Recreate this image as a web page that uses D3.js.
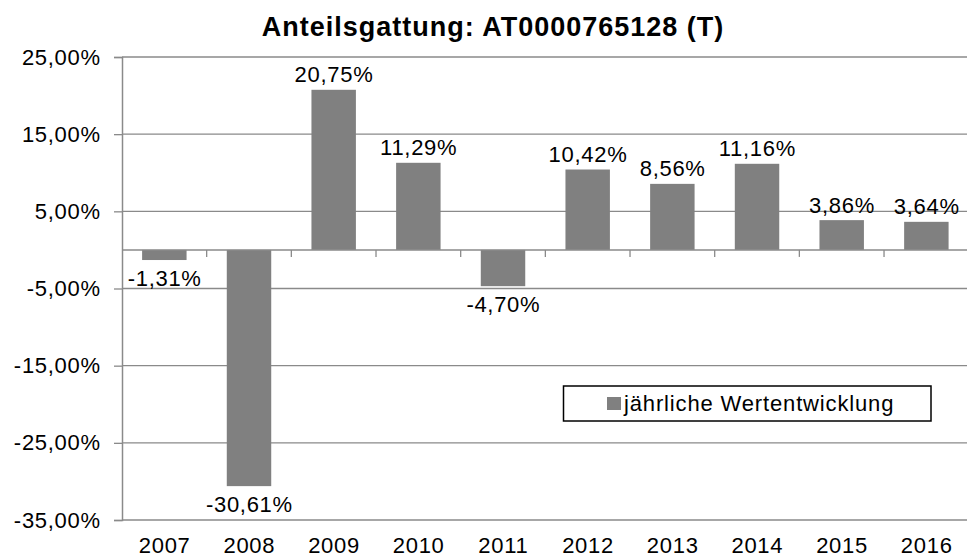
<!DOCTYPE html>
<html>
<head>
<meta charset="utf-8">
<script src="https://cdn.jsdelivr.net/npm/d3@7"></script>
<style>
  html, body { margin: 0; padding: 0; background: #fff; }
  svg { display: block; font-family: "Liberation Sans", Arial, sans-serif; }
</style>
</head>
<body>
<svg id="chart" width="967" height="558"></svg>
<script>
const title = "Anteilsgattung: AT0000765128 (T)";
const categories = ["2007","2008","2009","2010","2011","2012","2013","2014","2015","2016"];
const values = [-1.31, -30.61, 20.75, 11.29, -4.70, 10.42, 8.56, 11.16, 3.86, 3.64];
const yTicks = [25, 15, 5, -5, -15, -25, -35];
const seriesName = "jährliche Wertentwicklung";

const fmt = v => v.toFixed(2).replace(".", ",") + "%";

const svg = d3.select("#chart");
const plotLeft = 122, plotRight = 968.7, plotTop = 57, plotBottom = 520;

const x = d3.scaleBand().domain(categories).range([plotLeft, plotRight]).paddingInner(0.475).paddingOuter(0.2375);
const y = d3.scaleLinear().domain([-35, 25]).range([plotBottom, plotTop]);

const gridColor = "#8a8a8a";

// gridlines
svg.append("g").selectAll("line").data(yTicks).join("line")
  .attr("x1", plotLeft).attr("x2", 967)
  .attr("y1", d => y(d)).attr("y2", d => y(d))
  .attr("stroke", gridColor).attr("stroke-width", 1.3);

// y axis
const yAxis = d3.axisLeft(y).tickValues(yTicks).tickSize(8).tickPadding(14).tickFormat(fmt);
const ya = svg.append("g").attr("transform", `translate(${plotLeft},0)`).call(yAxis);
ya.select(".domain").attr("stroke", gridColor).attr("stroke-width", 1.5);
ya.selectAll(".tick line").attr("stroke", gridColor).attr("stroke-width", 1.3);
ya.selectAll(".tick text").attr("font-size", 22).attr("fill", "#000")
  .attr("font-family", '"Liberation Sans", Arial, sans-serif')
  .style("letter-spacing", "0.7px").attr("dx", 0.7);

// bars
svg.append("g").selectAll("rect").data(values).join("rect")
  .attr("x", (d, i) => x(categories[i]))
  .attr("width", x.bandwidth())
  .attr("y", d => y(Math.max(0, d)))
  .attr("height", d => Math.abs(y(d) - y(0)))
  .attr("fill", "#808080");

// zero axis with category boundary ticks
const gap = (x.step() - x.bandwidth()) / 2;
svg.append("line").attr("x1", plotLeft).attr("x2", 967)
  .attr("y1", y(0)).attr("y2", y(0))
  .attr("stroke", gridColor).attr("stroke-width", 1.5);
svg.append("g").selectAll("line").data(categories.slice(1)).join("line")
  .attr("x1", d => x(d) - gap)
  .attr("x2", d => x(d) - gap)
  .attr("y1", y(0)).attr("y2", y(0) + 7)
  .attr("stroke", gridColor).attr("stroke-width", 1.3);

// x labels
svg.append("g").selectAll("text").data(categories).join("text")
  .attr("x", d => x(d) + x.bandwidth() / 2 + 0.35)
  .attr("y", 553)
  .attr("text-anchor", "middle")
  .attr("font-size", 22)
  .style("letter-spacing", "0.7px")
  .text(d => d);

// value labels
svg.append("g").selectAll("text").data(values).join("text")
  .attr("x", (d, i) => x(categories[i]) + x.bandwidth() / 2 + 0.35)
  .attr("y", d => d >= 0 ? y(d) - 7.5 : y(d) + 26)
  .attr("text-anchor", "middle")
  .attr("font-size", 22)
  .style("letter-spacing", "0.7px")
  .text(d => fmt(d));

// title
svg.append("text")
  .attr("x", 493).attr("y", 36)
  .attr("text-anchor", "middle")
  .attr("font-size", 27).attr("font-weight", "bold")
  .style("letter-spacing", "1px")
  .text(title);

// legend
const lg = svg.append("g");
lg.append("rect").attr("x", 563.5).attr("y", 386).attr("width", 367.5).attr("height", 35)
  .attr("fill", "#fff").attr("stroke", "#000").attr("stroke-width", 1.5);
lg.append("rect").attr("x", 607).attr("y", 397).attr("width", 14).attr("height", 13).attr("fill", "#808080");
lg.append("text").attr("x", 624).attr("y", 411)
  .attr("font-size", 22).style("letter-spacing", "0.85px")
  .text(seriesName);
</script>
</body>
</html>
